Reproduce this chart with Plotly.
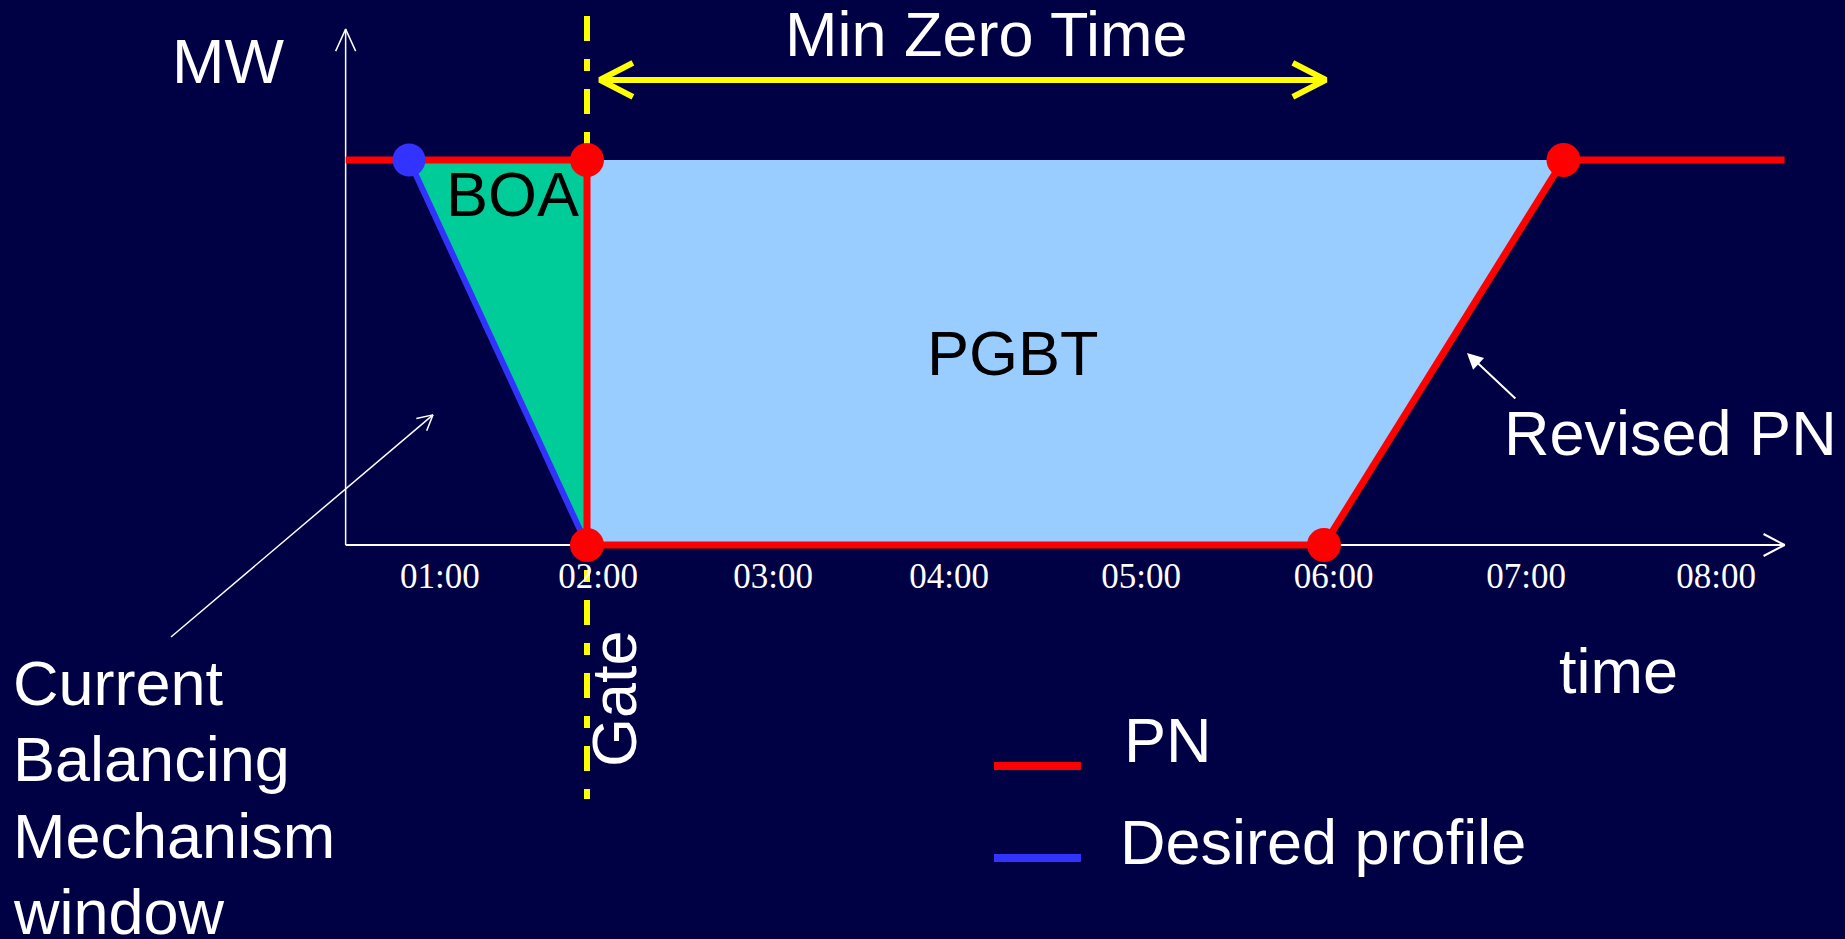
import math
import plotly.graph_objects as go

# ---------------- data (time in hours, MW as % of the running level) ----------------
pn_time = [0.69, 2.0, 2.0, 6.0, 7.30, 8.50]
pn_mw = [100, 100, 0, 0, 100, 100]

desired_time = [1.034, 2.0]
desired_mw = [100, 0]

pn_point_time = [2.0, 2.0, 6.0, 7.30]
pn_point_mw = [100, 0, 0, 100]

boa_time = [1.034, 2.0, 2.0]
boa_mw = [100, 100, 0]

pgbt_time = [2.0, 7.30, 6.0, 2.0]
pgbt_mw = [100, 100, 0, 0]

gate_time = 2.0
gate_mw_span = [137.4, -66.0]

min_zero_time = [2.07, 6.01]
min_zero_mw = 120.8

axis_origin_time = 0.69
axis_x_end_time = 8.50
axis_y_end_mw = 134.0

tick_pos = [1.202, 2.060, 3.010, 3.965, 5.008, 6.053, 7.097, 8.128]
tick_labels = ["01:00", "02:00", "03:00", "04:00", "05:00", "06:00", "07:00", "08:00"]

# ---------------- styling ----------------
BG = "#000044"
RED = "#FF0000"
BLUE = "#3333FF"
GREEN = "#00CC99"
LIGHT = "#99CCFF"
YELLOW = "#FFFF00"
WHITE = "#FFFFFF"
FONT = "Arial, Liberation Sans, sans-serif"
FS = 63

W, H = 1845, 939
X_RANGE = [-1.186, 8.828]
Y_RANGE = [-102.34, 141.56]
PXH = W / (X_RANGE[1] - X_RANGE[0])
PXM = H / (Y_RANGE[1] - Y_RANGE[0])


def off(x, y, dxp, dyp):
    """offset a data point by screen pixels (dy positive = downward)"""
    return x + dxp / PXH, y - dyp / PXM


fig = go.Figure()


def line(xs, ys, color, width, dash=None):
    fig.add_trace(go.Scatter(x=xs, y=ys, mode="lines",
                             line=dict(color=color, width=width, dash=dash),
                             hoverinfo="skip", showlegend=False))


def chevron(tx, ty, arms, color, width):
    a1 = off(tx, ty, *arms[0])
    a2 = off(tx, ty, *arms[1])
    line([a1[0], tx, a2[0]], [a1[1], ty, a2[1]], color, width)


# gate line
line([gate_time, gate_time], gate_mw_span, YELLOW, 6, dash="25px,18px,12px,18px")

# fills
fig.add_trace(go.Scatter(x=pgbt_time, y=pgbt_mw, mode="lines", fill="toself",
                         fillcolor=LIGHT, line=dict(width=0), hoverinfo="skip",
                         showlegend=False))
fig.add_trace(go.Scatter(x=boa_time, y=boa_mw, mode="lines", fill="toself",
                         fillcolor=GREEN, line=dict(width=0), hoverinfo="skip",
                         showlegend=False))

# axes
line([axis_origin_time, axis_origin_time], [0, axis_y_end_mw], WHITE, 1.5)
chevron(axis_origin_time, axis_y_end_mw, [(-10, 22), (10, 22)], WHITE, 1.5)
line([axis_origin_time, axis_x_end_time], [0, 0], WHITE, 2)
chevron(axis_x_end_time, 0, [(-21, -11), (-21, 11)], WHITE, 2)

# PN and desired profile
line(pn_time, pn_mw, RED, 7)
line(desired_time, desired_mw, BLUE, 6)
fig.add_trace(go.Scatter(x=[desired_time[0]], y=[desired_mw[0]], mode="markers",
                         marker=dict(color=BLUE, size=33), hoverinfo="skip",
                         showlegend=False))
fig.add_trace(go.Scatter(x=pn_point_time, y=pn_point_mw, mode="markers",
                         marker=dict(color=RED, size=34), hoverinfo="skip",
                         showlegend=False))

# Min Zero Time double arrow
line(min_zero_time, [min_zero_mw, min_zero_mw], YELLOW, 6)
chevron(min_zero_time[0], min_zero_mw, [(33, -17), (33, 17)], YELLOW, 6)
chevron(min_zero_time[1], min_zero_mw, [(-33, -17), (-33, 17)], YELLOW, 6)

# Current BM window pointer (open arrow)
cbm_tail = (-0.258, -23.9)
cbm_tip = (1.164, 33.8)
line([cbm_tail[0], cbm_tip[0]], [cbm_tail[1], cbm_tip[1]], WHITE, 1.5)
dxp = (cbm_tip[0] - cbm_tail[0]) * PXH
dyp = -(cbm_tip[1] - cbm_tail[1]) * PXM
L = math.hypot(dxp, dyp)
ux, uy = -dxp / L, -dyp / L
arms = []
for ang in (math.radians(28), math.radians(-28)):
    rx = ux * math.cos(ang) - uy * math.sin(ang)
    ry = ux * math.sin(ang) + uy * math.cos(ang)
    arms.append((rx * 17, ry * 17))
chevron(cbm_tip[0], cbm_tip[1], arms, WHITE, 1.5)

# legend samples
legend_x = [4.209, 4.681]
line(legend_x, [-57.4, -57.4], RED, 8)
line(legend_x, [-81.3, -81.3], BLUE, 8)

annotations = [
    dict(x=0.052, y=125.7, text="MW", font=dict(color=WHITE, size=FS)),
    dict(x=4.171, y=132.7, text="Min Zero Time", font=dict(color=WHITE, size=FS)),
    dict(x=1.598, y=91.2, text="BOA", font=dict(color="#000000", size=FS)),
    dict(x=4.312, y=49.9, text="PGBT", font=dict(color="#000000", size=FS)),
    dict(x=7.883, y=29.1, text="Revised PN", font=dict(color=WHITE, size=FS)),
    dict(x=7.596, y=-32.7, text="time", font=dict(color=WHITE, size=FS)),
    dict(x=2.147, y=-40.0, text="Gate", textangle=-90, font=dict(color=WHITE, size=FS)),
    dict(x=-1.125, y=-35.8, text="Current", xanchor="left", font=dict(color=WHITE, size=FS)),
    dict(x=-1.125, y=-55.6, text="Balancing", xanchor="left", font=dict(color=WHITE, size=FS)),
    dict(x=-1.125, y=-75.6, text="Mechanism", xanchor="left", font=dict(color=WHITE, size=FS)),
    dict(x=-1.125, y=-95.3, text="window", xanchor="left", font=dict(color=WHITE, size=FS)),
    dict(x=4.904, y=-50.6, text="PN", xanchor="left", font=dict(color=WHITE, size=FS)),
    dict(x=4.882, y=-77.1, text="Desired profile", xanchor="left", font=dict(color=WHITE, size=FS)),
]
for a in annotations:
    a.setdefault("xanchor", "center")
    a.update(xref="x", yref="y", showarrow=False, yanchor="middle")
    a["font"]["family"] = FONT

annotations.append(dict(x=6.776, y=49.9, ax=7.047, ay=37.7, xref="x", yref="y",
                        axref="x", ayref="y", text="", showarrow=True,
                        arrowhead=2, arrowsize=1.6, arrowwidth=2, arrowcolor=WHITE))

fig.update_layout(
    width=W, height=H,
    margin=dict(l=0, r=0, t=0, b=0),
    paper_bgcolor=BG, plot_bgcolor=BG,
    showlegend=False,
    annotations=annotations,
    xaxis=dict(range=X_RANGE, showgrid=False, zeroline=False, showline=False,
               tickmode="array", tickvals=tick_pos, ticktext=tick_labels,
               ticks="", anchor="free", position=(H - 545) / H,
               ticklabelstandoff=7,
               tickfont=dict(family="Liberation Serif, Times New Roman, serif",
                             size=35, color=WHITE),
               fixedrange=True),
    yaxis=dict(range=Y_RANGE, showgrid=False, zeroline=False, showline=False,
               showticklabels=False, ticks="", fixedrange=True),
    hovermode=False,
)

fig.write_html("out.html", config={"displayModeBar": False},
               post_script="document.body.style.margin='0';document.body.style.background='#000044';document.body.style.overflow='hidden';")
